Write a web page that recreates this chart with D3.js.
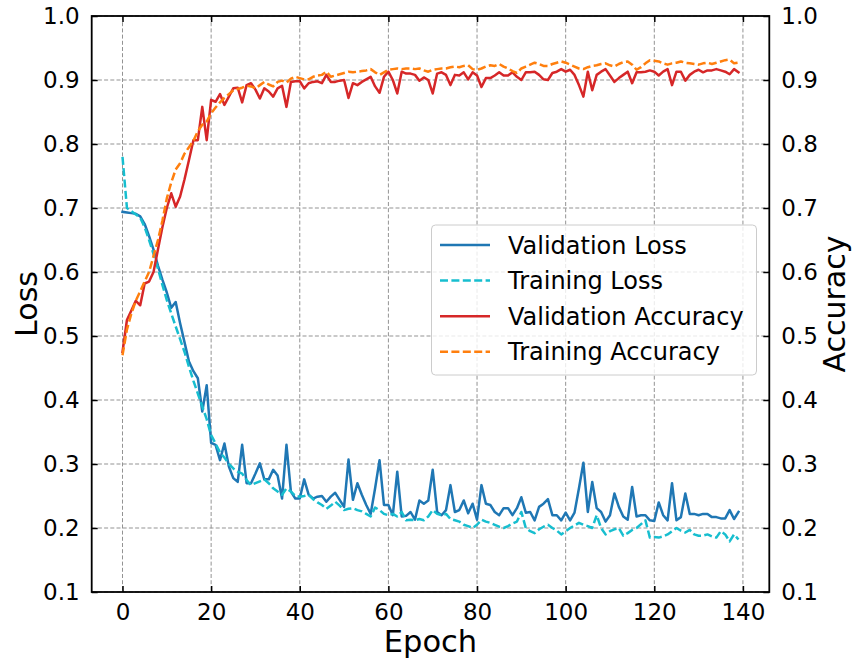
<!DOCTYPE html>
<html>
<head>
<meta charset="utf-8">
<script src="https://cdn.jsdelivr.net/npm/d3@7/dist/d3.min.js"></script>
<style>
  html, body { margin: 0; padding: 0; background: #fff; }
  svg { display: block; font-family: "DejaVu Sans", sans-serif; }
</style>
</head>
<body>
<svg id="chart" width="852" height="661"></svg>
<script>
// Per-epoch metrics (epochs 0..139)
const valLoss = [
  0.694,0.693,0.692,0.691,0.687,0.675,0.656,0.635,0.610,0.588,
  0.568,0.544,0.553,0.520,0.490,0.460,0.445,0.434,0.382,0.423,
  0.333,0.330,0.306,0.332,0.296,0.278,0.272,0.330,0.270,0.270,
  0.285,0.301,0.276,0.276,0.291,0.282,0.246,0.330,0.257,0.246,
  0.246,0.276,0.252,0.246,0.249,0.250,0.241,0.249,0.255,0.244,
  0.233,0.307,0.244,0.270,0.252,0.236,0.222,0.262,0.306,0.236,
  0.236,0.220,0.288,0.218,0.219,0.225,0.213,0.243,0.238,0.243,
  0.291,0.225,0.220,0.228,0.267,0.225,0.228,0.243,0.223,0.238,
  0.213,0.267,0.238,0.236,0.225,0.220,0.231,0.231,0.220,0.231,
  0.248,0.224,0.225,0.212,0.233,0.238,0.245,0.220,0.220,0.212,
  0.224,0.212,0.224,0.262,0.302,0.225,0.272,0.231,0.225,0.210,
  0.220,0.254,0.233,0.218,0.213,0.264,0.218,0.220,0.220,0.212,
  0.211,0.240,0.220,0.212,0.270,0.212,0.217,0.254,0.222,0.222,
  0.220,0.222,0.222,0.217,0.217,0.215,0.215,0.228,0.214,0.225
];
const trainLoss = [
  0.780,0.700,0.695,0.690,0.685,0.670,0.650,0.628,0.605,0.580,
  0.556,0.535,0.515,0.495,0.475,0.452,0.430,0.410,0.390,0.370,
  0.345,0.332,0.318,0.310,0.300,0.293,0.288,0.285,0.275,0.267,
  0.270,0.273,0.276,0.270,0.262,0.257,0.252,0.262,0.257,0.250,
  0.249,0.250,0.252,0.245,0.240,0.236,0.230,0.235,0.241,0.235,
  0.228,0.230,0.231,0.228,0.226,0.222,0.218,0.232,0.228,0.222,
  0.220,0.222,0.218,0.225,0.212,0.213,0.212,0.214,0.212,0.218,
  0.228,0.222,0.220,0.222,0.214,0.212,0.210,0.205,0.203,0.200,
  0.205,0.213,0.210,0.208,0.205,0.202,0.200,0.203,0.207,0.210,
  0.225,0.200,0.195,0.192,0.198,0.202,0.205,0.200,0.196,0.190,
  0.195,0.200,0.204,0.208,0.205,0.203,0.200,0.220,0.200,0.190,
  0.195,0.198,0.200,0.188,0.192,0.197,0.200,0.206,0.212,0.185,
  0.186,0.185,0.187,0.190,0.195,0.200,0.196,0.193,0.197,0.190,
  0.188,0.188,0.190,0.187,0.185,0.195,0.190,0.179,0.190,0.182
];
const valAcc = [
  0.475,0.525,0.540,0.555,0.548,0.582,0.585,0.600,0.635,0.670,
  0.700,0.723,0.702,0.718,0.745,0.775,0.806,0.806,0.858,0.806,
  0.869,0.866,0.878,0.861,0.874,0.887,0.888,0.865,0.892,0.895,
  0.885,0.871,0.887,0.882,0.874,0.887,0.891,0.858,0.897,0.898,
  0.898,0.887,0.895,0.897,0.898,0.895,0.908,0.897,0.897,0.899,
  0.900,0.872,0.895,0.892,0.897,0.901,0.905,0.890,0.880,0.905,
  0.913,0.900,0.879,0.913,0.910,0.910,0.908,0.899,0.904,0.900,
  0.879,0.910,0.912,0.908,0.892,0.908,0.907,0.912,0.901,0.912,
  0.907,0.889,0.903,0.903,0.907,0.912,0.907,0.907,0.912,0.905,
  0.900,0.912,0.912,0.913,0.908,0.901,0.900,0.911,0.913,0.917,
  0.913,0.916,0.908,0.892,0.874,0.913,0.884,0.908,0.913,0.917,
  0.907,0.897,0.903,0.908,0.913,0.895,0.912,0.912,0.913,0.915,
  0.913,0.907,0.913,0.917,0.892,0.913,0.913,0.899,0.908,0.913,
  0.916,0.912,0.915,0.915,0.917,0.915,0.913,0.909,0.917,0.912
];
const trainAcc = [
  0.470,0.510,0.535,0.555,0.570,0.585,0.600,0.625,0.650,0.680,
  0.715,0.740,0.760,0.770,0.785,0.795,0.805,0.820,0.830,0.835,
  0.848,0.857,0.865,0.872,0.878,0.884,0.886,0.888,0.891,0.890,
  0.887,0.892,0.897,0.893,0.890,0.897,0.899,0.896,0.902,0.905,
  0.903,0.901,0.901,0.905,0.907,0.908,0.913,0.905,0.907,0.909,
  0.911,0.913,0.912,0.913,0.914,0.915,0.917,0.912,0.908,0.912,
  0.916,0.917,0.918,0.917,0.918,0.918,0.917,0.918,0.915,0.913,
  0.916,0.917,0.918,0.918,0.920,0.921,0.920,0.922,0.923,0.917,
  0.916,0.918,0.921,0.923,0.922,0.925,0.921,0.918,0.914,0.911,
  0.918,0.921,0.924,0.927,0.925,0.922,0.922,0.925,0.927,0.929,
  0.927,0.924,0.921,0.918,0.917,0.920,0.922,0.923,0.925,0.926,
  0.923,0.921,0.925,0.928,0.929,0.924,0.916,0.920,0.926,0.931,
  0.930,0.929,0.926,0.924,0.926,0.927,0.929,0.927,0.926,0.925,
  0.924,0.926,0.927,0.925,0.927,0.929,0.931,0.932,0.926,0.927
];
const epochs = d3.range(valLoss.length);

const xTicks = [0, 20, 40, 60, 80, 100, 120, 140];
const yTicks = [0.1, 0.2, 0.3, 0.4, 0.5, 0.6, 0.7, 0.8, 0.9, 1.0];

const series = [
  { name: "Validation Loss",     values: valLoss,   axis: "left",  color: "#1f77b4", dash: null },
  { name: "Training Loss",       values: trainLoss, axis: "left",  color: "#17becf", dash: "8,3.4" },
  { name: "Validation Accuracy", values: valAcc,    axis: "right", color: "#d62728", dash: null },
  { name: "Training Accuracy",   values: trainAcc,  axis: "right", color: "#ff7f0e", dash: "8,3.4" }
];

const plot = { left: 91.7, right: 769.3, top: 16, bottom: 592 };
const svg = d3.select("#chart");

const x = d3.scaleLinear().domain([-6.95, 145.95]).range([plot.left, plot.right]);
const yLoss = d3.scaleLinear().domain([0.1, 1.0]).range([plot.bottom, plot.top]);
const yAcc = d3.scaleLinear().domain([0.1, 1.0]).range([plot.bottom, plot.top]);

const fmt = d3.format(".1f");
const tickFont = 23;
const lineWidth = 2.5;

// Grid
const grid = svg.append("g").attr("stroke", "#939393").attr("stroke-width", 1)
  .attr("stroke-dasharray", "4,2.2").attr("fill", "none");
grid.selectAll("line.gx").data(xTicks).join("line").attr("class", "gx")
  .attr("x1", d => x(d)).attr("x2", d => x(d))
  .attr("y1", plot.top).attr("y2", plot.bottom);
grid.selectAll("line.gy").data(yTicks).join("line").attr("class", "gy")
  .attr("x1", plot.left).attr("x2", plot.right)
  .attr("y1", d => yLoss(d)).attr("y2", d => yLoss(d));

// Lines
svg.append("clipPath").attr("id", "plotclip").append("rect")
  .attr("x", plot.left).attr("y", plot.top)
  .attr("width", plot.right - plot.left).attr("height", plot.bottom - plot.top);
const lines = svg.append("g").attr("clip-path", "url(#plotclip)");
series.forEach(s => {
  const yS = s.axis === "left" ? yLoss : yAcc;
  const gen = d3.line().x((d, i) => x(epochs[i])).y(d => yS(d));
  lines.append("path").datum(s.values)
    .attr("d", gen)
    .attr("fill", "none")
    .attr("stroke", s.color)
    .attr("stroke-width", lineWidth)
    .attr("stroke-linejoin", "round")
    .attr("stroke-linecap", s.dash ? "butt" : "square")
    .attr("stroke-dasharray", s.dash);
});

// Axes with inward ticks
const bottomAxis = d3.axisBottom(x).tickValues(xTicks).tickSizeInner(-6).tickSizeOuter(0).tickPadding(12);
const topAxis = d3.axisTop(x).tickValues(xTicks).tickSizeInner(-6).tickSizeOuter(0).tickFormat("");
const leftAxis = d3.axisLeft(yLoss).tickValues(yTicks).tickFormat(fmt).tickSizeInner(-6).tickSizeOuter(0).tickPadding(12);
const rightAxis = d3.axisRight(yAcc).tickValues(yTicks).tickFormat(fmt).tickSizeInner(-6).tickSizeOuter(0).tickPadding(12);

function styleAxis(g) {
  g.select(".domain").remove();
  g.selectAll(".tick line").attr("stroke", "#000").attr("stroke-width", 1.5);
  g.selectAll(".tick text").attr("fill", "#000")
    .style("font-family", "'DejaVu Sans', sans-serif").style("font-size", tickFont + "px");
}
svg.append("g").attr("transform", `translate(0,${plot.bottom})`).call(bottomAxis).call(styleAxis);
svg.append("g").attr("transform", `translate(0,${plot.top})`).call(topAxis).call(styleAxis);
svg.append("g").attr("transform", `translate(${plot.left},0)`).call(leftAxis).call(styleAxis);
svg.append("g").attr("transform", `translate(${plot.right},0)`).call(rightAxis).call(styleAxis);

// Frame
svg.append("rect")
  .attr("x", plot.left).attr("y", plot.top)
  .attr("width", plot.right - plot.left).attr("height", plot.bottom - plot.top)
  .attr("fill", "none").attr("stroke", "#000").attr("stroke-width", 1.8);

// Axis titles
const cy = (plot.top + plot.bottom) / 2;
svg.append("text").attr("x", (plot.left + plot.right) / 2).attr("y", 652)
  .attr("text-anchor", "middle").style("font-size", "30.5px").text("Epoch");
svg.append("text").attr("transform", `translate(37,${cy}) rotate(-90)`)
  .attr("text-anchor", "middle").style("font-size", "30px").text("Loss");
svg.append("text").attr("transform", `translate(824,${cy}) rotate(-90)`)
  .attr("text-anchor", "middle").attr("dy", "0.7em").style("font-size", "30px").text("Accuracy");

// Legend
const lg = { x: 431.5, y: 225, w: 325, h: 150, rowY: 245, rowGap: 35.6 };
const legend = svg.append("g");
legend.append("rect")
  .attr("x", lg.x).attr("y", lg.y).attr("width", lg.w).attr("height", lg.h)
  .attr("rx", 4).attr("ry", 4)
  .attr("fill", "#fff").attr("fill-opacity", 0.8)
  .attr("stroke", "#cccccc").attr("stroke-width", 1);
const rows = legend.selectAll("g.row").data(series).join("g").attr("class", "row")
  .attr("transform", (d, i) => `translate(0,${lg.rowY + i * lg.rowGap})`);
rows.append("line")
  .attr("x1", 440).attr("x2", 490).attr("y1", 0).attr("y2", 0)
  .attr("stroke", d => d.color).attr("stroke-width", lineWidth)
  .attr("stroke-dasharray", d => d.dash);
rows.append("text").attr("x", 508).attr("y", 0).attr("dy", "0.36em")
  .style("font-size", "24px").attr("fill", "#000").text(d => d.name);
</script>
</body>
</html>
